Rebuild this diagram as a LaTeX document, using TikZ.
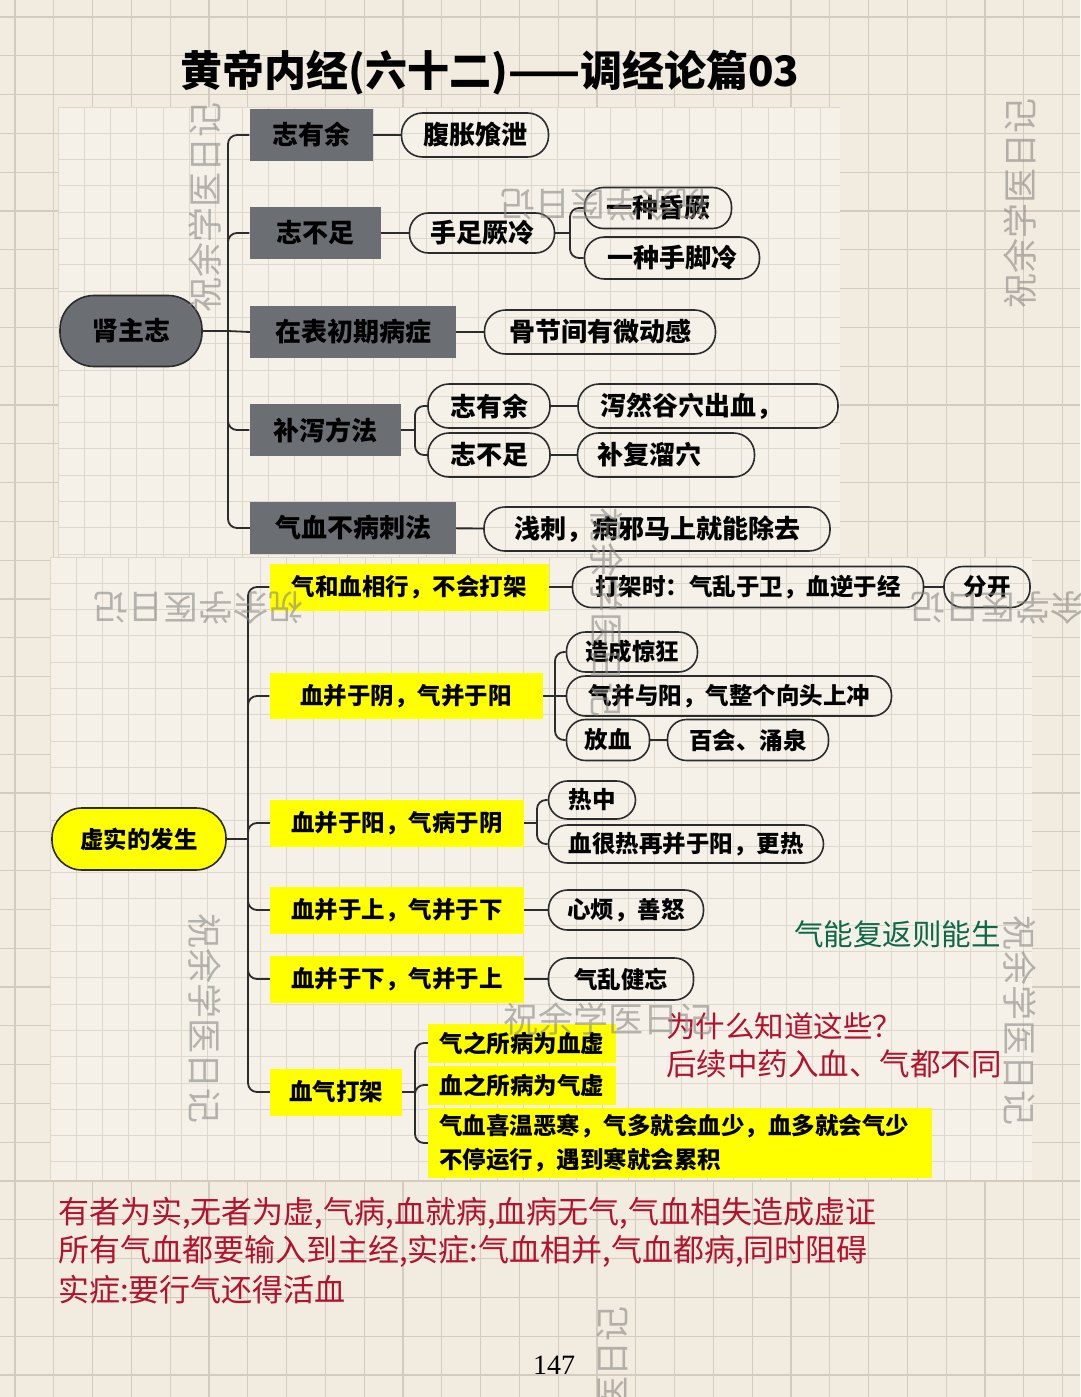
\documentclass[tikz,border=0pt]{standalone}
\usepackage{fontspec}
\newfontfamily\cjk{Noto Sans CJK SC}
\newfontfamily\numfont{Liberation Serif}
\usetikzlibrary{positioning}
\definecolor{paper}{HTML}{F1EBE0}
\definecolor{paperin}{HTML}{F5F1E9}
\definecolor{gridout}{HTML}{D3CBBF}
\definecolor{gridin}{HTML}{DDD7CC}
\definecolor{slate}{HTML}{6B6F74}
\definecolor{inkline}{HTML}{2C2C2C}
\definecolor{hlyellow}{HTML}{FFFF00}
\definecolor{notered}{HTML}{B3122C}
\definecolor{notegreen}{HTML}{0D6848}
\definecolor{wmgray}{HTML}{8A8884}

\begin{document}
\begin{tikzpicture}[x=1pt, y=-1pt,
	outgrid/.style={draw=gridout, line width=1.2},
	ingrid/.style={draw=gridin, line width=1},
	graybox/.style={fill=slate, minimum height=52, inner sep=0, font={\cjk\bfseries\fontsize{26}{30}\selectfont}},
	yelbox/.style={fill=hlyellow, minimum height=47, inner sep=0, font={\cjk\bfseries\fontsize{23.5}{28}\selectfont}},
	pill/.style={draw=inkline, line width=1.6, rounded corners=21, minimum height=44, inner sep=0, font={\cjk\bfseries\fontsize{26}{30}\selectfont}},
	spill/.style={pill, rounded corners=19, minimum height=40, font={\cjk\bfseries\fontsize{23.5}{28}\selectfont}},
	link/.style={draw=inkline, line width=1.8, rounded corners=9},
	note/.style={anchor=west, inner sep=0, font={\cjk\fontsize{31}{36}\selectfont}},
	watermark/.style={text=wmgray, opacity=.6, inner sep=0, font={\cjk\fontsize{35}{40}\selectfont}}]
		\useasboundingbox (0,0) rectangle (1080,1397);
		\fill[paper] (0,0) rectangle (1080,1397);
		\foreach \i in {0,...,27} \draw[outgrid] ({15+38.8*\i},0) -- ({15+38.8*\i},1397);
		\foreach \i in {0,...,35} \draw[outgrid] (0,{17+38.8*\i}) -- (1080,{17+38.8*\i});
		\fill[paperin] (58,107) rectangle (840,557);
		\foreach \i in {0,...,29} \draw[ingrid] ({58+26.3*\i},107) -- ({58+26.3*\i},557);
		\foreach \i in {0,...,17} \draw[ingrid] (58,{107+26.3*\i}) -- (840,{107+26.3*\i});
		\fill[paperin] (50,557) rectangle (1032,1180);
		\foreach \i in {0,...,37} \draw[ingrid] ({50+26.3*\i},557) -- ({50+26.3*\i},1180);
		\foreach \i in {0,...,23} \draw[ingrid] (50,{557+26.3*\i}) -- (1032,{557+26.3*\i});

		\node[inner sep=0, font={\cjk\bfseries\fontsize{42}{46}\selectfont}] (title) at (490,73) {黄帝内经(六十二)——调经论篇03};

		\node[pill, fill=slate, rounded corners=34, minimum width=142, minimum height=71] (shen) at (131,331) {肾主志};
		\node[graybox, minimum width=123] (zyy) at (311,135) {志有余};
		\node[pill, minimum width=147] (fzsx) at (475,135) {腹胀飧泄};
		\node[graybox, minimum width=131] (zbz) at (315,233) {志不足};
		\node[pill, minimum width=145, minimum height=40, rounded corners=19] (szjl) at (482,233) {手足厥冷};
		\node[pill, minimum width=147, minimum height=41, rounded corners=19] (hunjue) at (658,208) {一种昏厥};
		\node[pill, minimum width=175, minimum height=42, rounded corners=20] (jiaoleng) at (672,258) {一种手脚冷};
		\node[graybox, minimum width=206] (zbcq) at (353,332) {在表初期病症};
		\node[pill, minimum width=231] (gjj) at (600,332) {骨节间有微动感};
		\node[graybox, minimum width=151] (bxff) at (325,430) {补泻方法};
		\node[pill, minimum width=122] (bxa) at (489,406) {志有余};
		\node[pill, minimum width=122] (bxb) at (489,455) {志不足};
		\node[pill, inner xsep=22, text width=216, align=left] (xierg) at (708,406) {泻然谷穴出血，};
		\node[pill, inner xsep=20, text width=137, align=left] (bufl) at (666,455) {补复溜穴};
		\node[graybox, minimum width=206] (qxbb) at (353,528) {气血不病刺法};
		\node[pill, minimum width=346] (qianci) at (657,529) {浅刺，病邪马上就能除去};

		\coordinate (tka) at (228,331);
		\draw[link] (shen.east) -- (tka);
		\draw[link] (tka) |- (zyy.west);
		\draw[link] (tka) |- (zbz.west);
		\draw[link] (tka) -- (zbcq.west);
		\draw[link] (tka) |- (bxff.west);
		\draw[link] (tka) |- (qxbb.west);
		\draw[link] (zyy) -- (fzsx);
		\draw[link] (zbz) -- (szjl);
		\coordinate (tkb) at (570,233);
		\draw[link] (szjl.east) -- (tkb);
		\draw[link] (tkb) |- (hunjue.west);
		\draw[link] (tkb) |- (jiaoleng.west);
		\draw[link] (zbcq) -- (gjj);
		\coordinate (tkc) at (415,430);
		\draw[link] (bxff.east) -- (tkc);
		\draw[link] (tkc) |- (bxa.west);
		\draw[link] (tkc) |- (bxb.west);
		\draw[link] (bxa) -- (xierg);
		\draw[link] (bxb) -- (bufl);
		\draw[link] (qxbb) -- (qianci);

		\node[pill, fill=hlyellow, rounded corners=30, minimum width=174, minimum height=62, font={\cjk\bfseries\fontsize{23.5}{28}\selectfont}] (xushi) at (139,839) {虚实的发生};
		\node[yelbox, minimum width=279] (hexing) at (409,587) {气和血相行，不会打架};
		\node[spill, minimum width=351, minimum height=41] (dajia) at (748,587) {打架时：气乱于卫，血逆于经};
		\node[spill, minimum width=86, minimum height=41] (fenkai) at (987,587) {分开};
		\node[yelbox, minimum width=273, minimum height=46] (bingyin) at (406,696) {血并于阴，气并于阳};
		\node[spill, minimum width=131] (jingkuang) at (632,652) {造成惊狂};
		\node[spill, minimum width=325] (chong) at (729,696) {气并与阳，气整个向头上冲};
		\node[spill, minimum width=83, minimum height=41] (fangxue) at (608,740) {放血};
		\node[spill, minimum width=161, minimum height=41] (baihui) at (748,740) {百会、涌泉};
		\node[yelbox, minimum width=254] (bingyang) at (397,823) {血并于阳，气病于阴};
		\node[spill, minimum width=87, minimum height=38] (rezhong) at (592,800) {热中};
		\node[spill, minimum width=275, minimum height=38] (gengre) at (686,844) {血很热再并于阳，更热};
		\node[yelbox, minimum width=254] (bingshang) at (397,910) {血并于上，气并于下};
		\node[spill, minimum width=155] (xinfan) at (626,910) {心烦，善怒};
		\node[yelbox, minimum width=254] (bingxia) at (397,979) {血并于下，气并于上};
		\node[spill, minimum width=145, minimum height=42] (jianwang) at (621,979) {气乱健忘};
		\node[yelbox, minimum width=132] (xqdj) at (336,1092) {血气打架};
		\node[yelbox, minimum width=188, minimum height=39] (xuexu) at (522,1043) {气之所病为血虚};
		\node[yelbox, minimum width=188, minimum height=39] (qixu) at (522,1085) {血之所病为气虚};
		\node[yelbox, minimum height=70, inner xsep=11, text width=482, align=left, font={\cjk\bfseries\fontsize{23.5}{34}\selectfont}] (xiwen) at (680,1143) {气血喜温恶寒，气多就会血少，血多就会气少\\不停运行，遇到寒就会累积};

		\coordinate (tkd) at (248,839);
		\draw[link] (xushi.east) -- (tkd);
		\draw[link] (tkd) |- (hexing.west);
		\draw[link] (tkd) |- (bingyin.west);
		\draw[link] (tkd) |- (bingyang.west);
		\draw[link] (tkd) |- (bingshang.west);
		\draw[link] (tkd) |- (bingxia.west);
		\draw[link] (tkd) |- (xqdj.west);
		\draw[link] (hexing) -- (dajia);
		\draw[link] (dajia) -- (fenkai);
		\coordinate (tke) at (555,696);
		\draw[link] (bingyin.east) -- (tke);
		\draw[link] (tke) |- (jingkuang.west);
		\draw[link] (tke) -- (chong.west);
		\draw[link] (tke) |- (fangxue.west);
		\draw[link] (fangxue) -- (baihui);
		\coordinate (tkf) at (537,823);
		\draw[link] (bingyang.east) -- (tkf);
		\draw[link] (tkf) |- (rezhong.west);
		\draw[link] (tkf) |- (gengre.west);
		\draw[link] (bingshang) -- (xinfan);
		\draw[link] (bingxia) -- (jianwang);
		\coordinate (tkg) at (415,1092);
		\draw[link] (xqdj.east) -- (tkg);
		\draw[link] (tkg) |- (xuexu.west);
		\draw[link] (tkg) |- (qixu.west);
		\draw[link] (tkg) |- (xiwen.west);

		\node[note, text=notegreen, font={\cjk\fontsize{29.5}{34}\selectfont}] (fusheng) at (794,934) {气能复返则能生};
		\node[note, text=notered, font={\cjk\fontsize{29.5}{34}\selectfont}] (weisheme) at (666,1026) {为什么知道这些？};
		\node[note, text=notered, font={\cjk\fontsize{30.5}{34}\selectfont}] (houxu) at (666,1064) {后续中药入血、气都不同};
		\node[note, text=notered] (lineone) at (58,1213) {有者为实,无者为虚,气病,血就病,血病无气,气血相失造成虚证};
		\node[note, text=notered] (linetwo) at (58,1251) {所有气血都要输入到主经,实症:气血相并,气血都病,同时阻碍};
		\node[note, text=notered] (linethree) at (58,1290) {实症:要行气还得活血};
		\node[inner sep=0, font={\numfont\fontsize{28}{32}\selectfont}] (page) at (554,1365) {147};

		\node[watermark, rotate=90] (wma) at (205,207) {祝余学医日记};
		\node[watermark, rotate=90] (wmb) at (1020,203) {祝余学医日记};
		\node[watermark, rotate=-90] (wmc) at (205,1018) {祝余学医日记};
		\node[watermark, rotate=-90] (wmd) at (1020,1020) {祝余学医日记};
		\node[watermark, rotate=-90] (wme) at (607,612) {祝余学医日记};
		\node[watermark] (wmf) at (608,1019) {祝余学医日记};
		\node[watermark, rotate=180] (wmg) at (605,205) {祝余学医日记};
		\node[watermark, rotate=180] (wmh) at (198,608) {祝余学医日记};
		\node[watermark, rotate=180] (wmi) at (1015,608) {祝余学医日记};
		\node[watermark, rotate=90, anchor=east] (wmj) at (612,1306) {祝余学医日记};
	\end{tikzpicture}
\end{document}
